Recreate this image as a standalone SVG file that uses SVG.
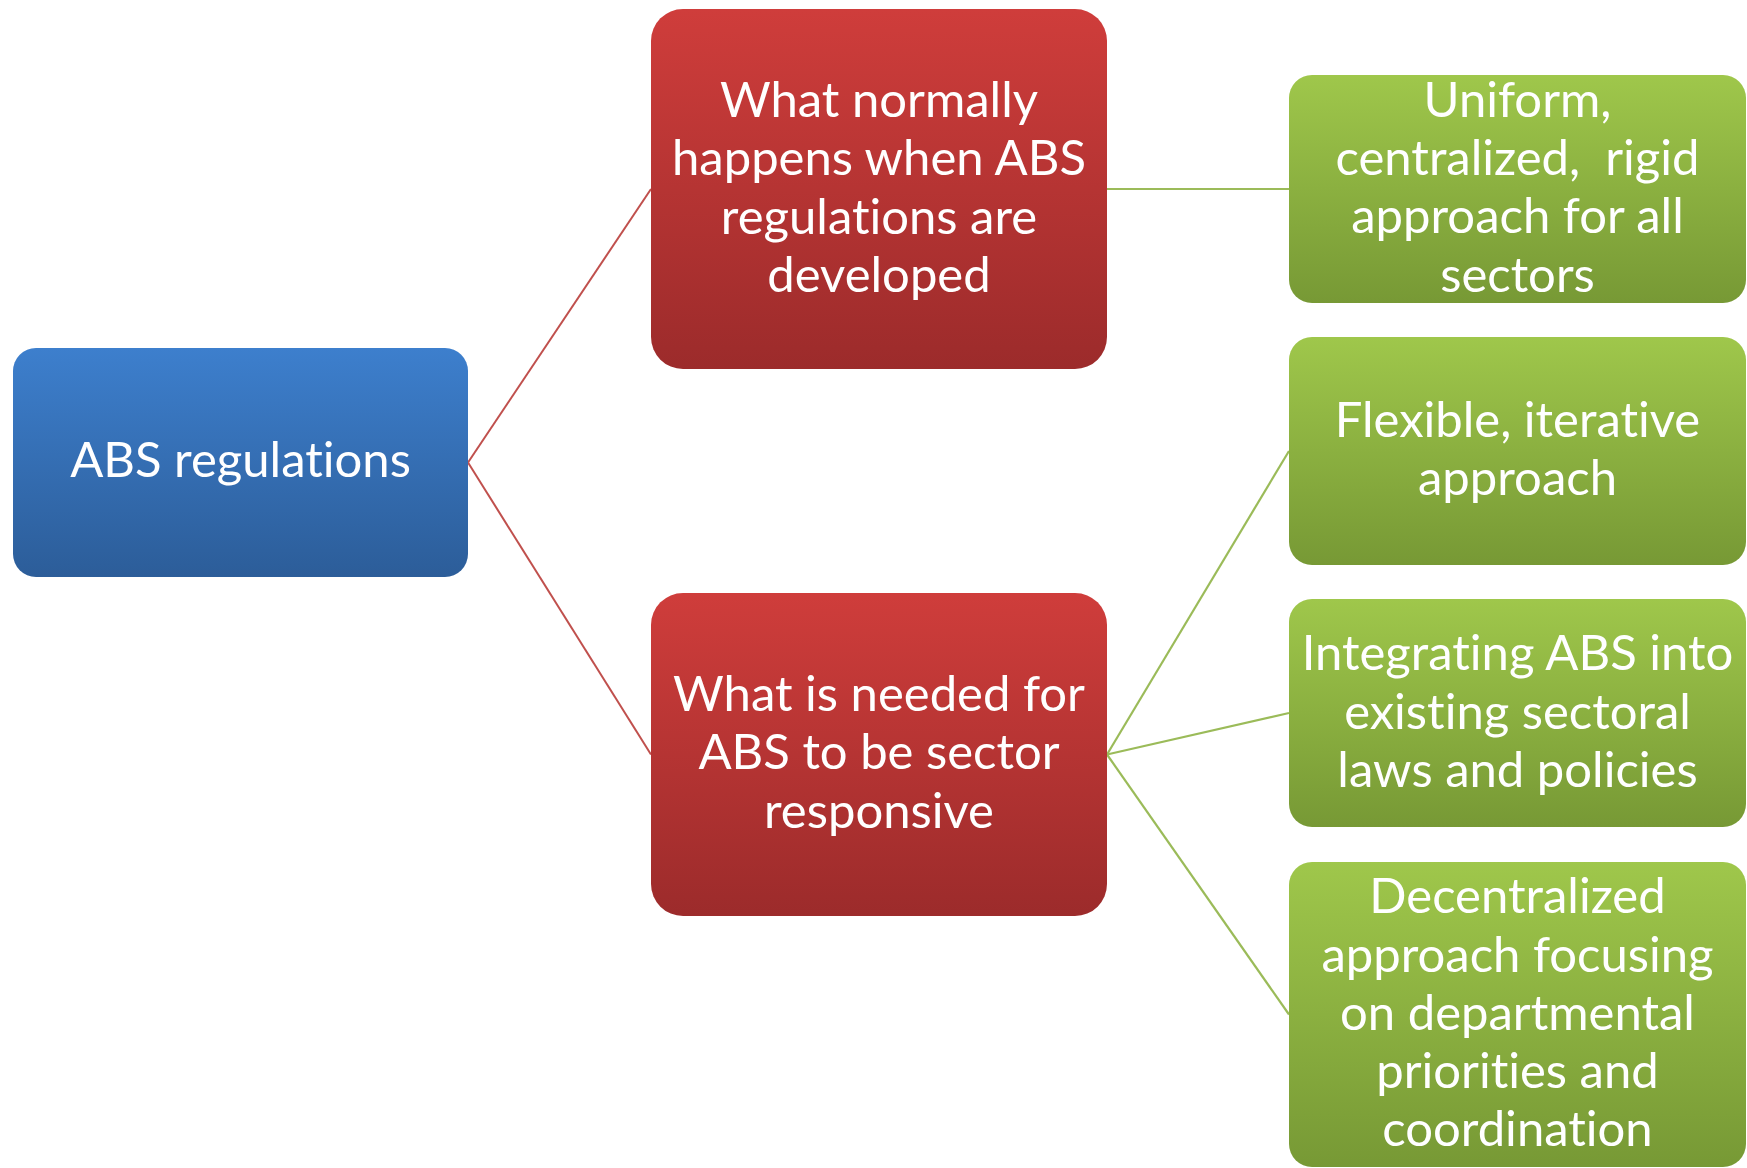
<svg xmlns="http://www.w3.org/2000/svg" width="1747" height="1168" viewBox="0 0 1747 1168">
<defs>
<linearGradient id="gBlue" x1="0" y1="0" x2="0" y2="1"><stop offset="0" stop-color="#3D7FCD"/><stop offset="1" stop-color="#2C5D99"/></linearGradient>
<linearGradient id="gRed" x1="0" y1="0" x2="0" y2="1"><stop offset="0" stop-color="#CF3D3B"/><stop offset="1" stop-color="#9C2B2B"/></linearGradient>
<linearGradient id="gGreen" x1="0" y1="0" x2="0" y2="1"><stop offset="0" stop-color="#9FC74B"/><stop offset="1" stop-color="#779935"/></linearGradient>
</defs>
<style>
text{font-family:Lato,"Open Sans","DejaVu Sans",sans-serif;font-size:49px;fill:#FFFFFF;text-anchor:middle;font-variant-ligatures:none;font-feature-settings:"liga" 0,"clig" 0,"dlig" 0}
.lr{stroke:#C0504D;stroke-width:2;fill:none}
.lg{stroke:#9BBB59;stroke-width:2.2;fill:none}
</style>
<rect width="1747" height="1168" fill="#FFFFFF"/>
<g id="connectors">
<line class="lr" x1="468" y1="462.5" x2="651" y2="189"/>
<line class="lr" x1="468" y1="462.5" x2="651" y2="754.5"/>
<line class="lg" x1="1107" y1="189" x2="1289" y2="189"/>
<line class="lg" x1="1107" y1="754.5" x2="1289" y2="451"/>
<line class="lg" x1="1107" y1="754.5" x2="1289" y2="713"/>
<line class="lg" x1="1107" y1="754.5" x2="1289" y2="1014.5"/>
</g>
<g id="root">
<rect x="13" y="348" width="455" height="229" rx="23" fill="url(#gBlue)"/>
<text x="240.5" y="477">ABS regulations</text>
</g>
<g id="current">
<rect x="651" y="9" width="456" height="360" rx="32" fill="url(#gRed)"/>
<text x="879" y="117">What normally</text>
<text x="879" y="175.3">happens when ABS</text>
<text x="879" y="233.6">regulations are</text>
<text x="879" y="292">developed</text>
</g>
<g id="needed">
<rect x="651" y="593" width="456" height="323" rx="32" fill="url(#gRed)"/>
<text x="879" y="710.7">What is needed for</text>
<text x="879" y="769.3">ABS to be sector</text>
<text x="879" y="827.7">responsive</text>
</g>
<g id="uniform">
<rect x="1289" y="75" width="457" height="228" rx="23" fill="url(#gGreen)"/>
<text x="1517.5" y="116.5">Uniform,</text>
<text x="1517.5" y="175" xml:space="preserve">centralized,  rigid</text>
<text x="1517.5" y="233.3">approach for all</text>
<text x="1517.5" y="291.5">sectors</text>
</g>
<g id="flexible">
<rect x="1289" y="337" width="457" height="228" rx="23" fill="url(#gGreen)"/>
<text x="1517.5" y="437">Flexible, iterative</text>
<text x="1517.5" y="495">approach</text>
</g>
<g id="integrating">
<rect x="1289" y="599" width="457" height="228" rx="23" fill="url(#gGreen)"/>
<text x="1517.5" y="670">Integrating ABS into</text>
<text x="1517.5" y="728.5">existing sectoral</text>
<text x="1517.5" y="787">laws and policies</text>
</g>
<g id="decentralized">
<rect x="1289" y="862" width="457" height="305" rx="23" fill="url(#gGreen)"/>
<text x="1517.5" y="913">Decentralized</text>
<text x="1517.5" y="971.5">approach focusing</text>
<text x="1517.5" y="1030">on departmental</text>
<text x="1517.5" y="1088">priorities and</text>
<text x="1517.5" y="1146">coordination</text>
</g>
</svg>
